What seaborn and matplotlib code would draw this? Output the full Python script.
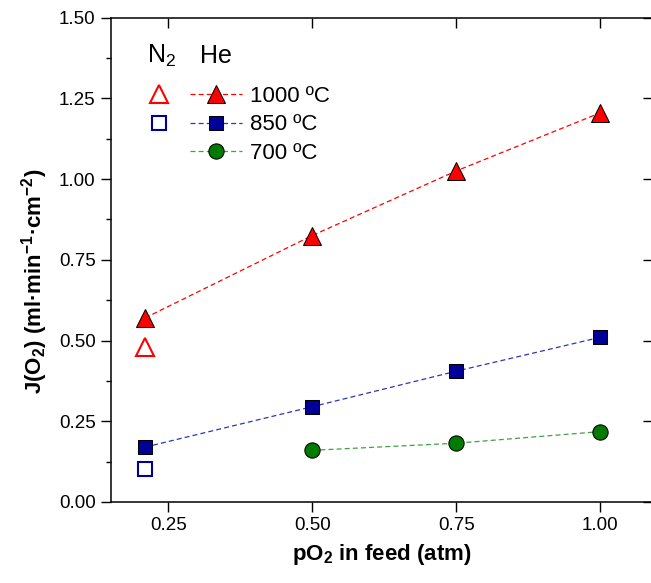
import matplotlib
matplotlib.use("Agg")
import matplotlib.pyplot as plt
import seaborn as sns
import pandas as pd
from matplotlib.lines import Line2D

# ---- data ----
he_1000_x = [0.21, 0.50, 0.75, 1.00]
he_1000_y = [0.570, 0.825, 1.025, 1.205]
he_850_x = [0.21, 0.50, 0.75, 1.00]
he_850_y = [0.170, 0.295, 0.405, 0.510]
he_700_x = [0.50, 0.75, 1.00]
he_700_y = [0.160, 0.182, 0.218]
n2_1000_x = [0.21]
n2_1000_y = [0.480]
n2_850_x = [0.21]
n2_850_y = [0.102]
series_labels = ["1000 ºC", "850 ºC", "700 ºC"]
x_ticks = [0.25, 0.50, 0.75, 1.00]
y_ticks = [0.00, 0.25, 0.50, 0.75, 1.00, 1.25, 1.50]
y_minor_ticks = [0.125, 0.375, 0.625, 0.875, 1.125, 1.375]

sns.set_style("ticks")
plt.rcParams['font.family'] = ['Liberation Sans', 'DejaVu Sans']
plt.rcParams['mathtext.default'] = 'regular'
for k in ['text.color', 'axes.labelcolor', 'xtick.color', 'ytick.color', 'axes.edgecolor']:
    plt.rcParams[k] = 'black'

W, H = 651, 583
fig = plt.figure(figsize=(W / 100, H / 100), dpi=100)
ax = fig.add_axes([110.5 / W, (H - 502) / H, (653 - 110.5) / W, (502 - 17.5) / H])

red = "#ff0000"
navy = "#000099"
green = "#007a00"
blue_line = "#3333bb"
green_line = "#44a044"

df1000 = pd.DataFrame({"x": he_1000_x, "y": he_1000_y})
df850 = pd.DataFrame({"x": he_850_x, "y": he_850_y})
df700 = pd.DataFrame({"x": he_700_x, "y": he_700_y})

line_kw = dict(lw=0.9, dashes=(4, 2.5), markeredgecolor="black", markeredgewidth=0.75)
sns.lineplot(data=df1000, x="x", y="y", ax=ax, color=red, marker="^", markersize=13,
             markerfacecolor=red, **line_kw)
sns.lineplot(data=df850, x="x", y="y", ax=ax, color=blue_line, marker="s", markersize=10,
             markerfacecolor=navy, **line_kw)
sns.lineplot(data=df700, x="x", y="y", ax=ax, color=green_line, marker="o", markersize=11,
             markerfacecolor=green, **line_kw)

ax.plot(n2_1000_x, n2_1000_y, linestyle="none", marker="^", markersize=12.5,
        markerfacecolor="white", markeredgecolor=red, markeredgewidth=1.5)
ax.plot(n2_850_x, n2_850_y, linestyle="none", marker="s", markersize=9.5,
        markerfacecolor="white", markeredgecolor=navy, markeredgewidth=1.5)

ax.set_xlim(0.1499, 1.0913)
ax.set_ylim(0, 1.5)
ax.set_xticks(x_ticks)
ax.set_xticklabels([f"{v:.2f}" for v in x_ticks])
# major and minor y positions together; minor ones get no label and a short tick
all_y = sorted(y_ticks + y_minor_ticks)
ax.set_yticks(all_y)
ax.set_yticklabels([f"{v:.2f}" if v in y_ticks else "" for v in all_y])

for s in ax.spines.values():
    s.set_linewidth(1.1)
    s.set_visible(True)
ax.tick_params(axis="both", which="major", direction="out", length=7.2, width=1.0,
               labelsize=13.5, pad=3.5, color="black", labelcolor="black")
ax.tick_params(axis="x", which="major", top=True)
ax.tick_params(axis="y", which="major", right=True)

ax.set_xlabel("pO$_2$ in feed (atm)", fontsize=16, fontweight="bold", labelpad=6)
ax.set_ylabel("J(O$_2$) (ml·min$^{-1}$·cm$^{-2}$)", fontsize=16, fontweight="bold")
ax.yaxis.set_label_coords((50 - 110.5) / 542.5, (502 - 281) / 484.5)

# legend (He, filled markers with lines)
he_handles = [
    Line2D([], [], color=red, lw=0.9, dashes=(4, 2.5), marker="^", markersize=13,
           markerfacecolor=red, markeredgecolor="black", markeredgewidth=0.75),
    Line2D([], [], color=blue_line, lw=0.9, dashes=(4, 2.5), marker="s", markersize=10,
           markerfacecolor=navy, markeredgecolor="black", markeredgewidth=0.75),
    Line2D([], [], color=green_line, lw=0.9, dashes=(4, 2.5), marker="o", markersize=11,
           markerfacecolor=green, markeredgecolor="black", markeredgewidth=0.75),
]
leg1 = fig.legend(he_handles, series_labels, loc="upper left",
                  bbox_to_anchor=(190 / W, (H - 86) / H), frameon=False,
                  fontsize=16, handlelength=2.35, handletextpad=0.35,
                  labelspacing=0.33, borderpad=0, borderaxespad=0)

n2_handles = [
    Line2D([], [], linestyle="none", marker="^", markersize=12.5,
           markerfacecolor="white", markeredgecolor=red, markeredgewidth=1.5),
    Line2D([], [], linestyle="none", marker="s", markersize=9.5,
           markerfacecolor="white", markeredgecolor=navy, markeredgewidth=1.5),
]
leg2 = fig.legend(n2_handles, [" ", " "], loc="upper left",
                  bbox_to_anchor=(148 / W, (H - 86) / H), frameon=False,
                  fontsize=16, handlelength=1.0, handletextpad=0.0,
                  labelspacing=0.33, borderpad=0, borderaxespad=0)

fig.text(147 / W, (H - 63) / H, "N$_2$", fontsize=18, ha="left", va="baseline")
fig.text(200 / W, (H - 63) / H, "He", fontsize=18, ha="left", va="baseline")

# per-tick styling: inward ticks on top/right, short ticks at minor positions
for t in ax.xaxis.get_major_ticks():
    t.tick2line.set_marker(matplotlib.lines.TICKDOWN)
for t, v in zip(ax.yaxis.get_major_ticks(len(all_y)), all_y):
    if v in y_minor_ticks:
        t.tick1line.set_markersize(3.6)
        t.tick2line.set_visible(False)
    else:
        t.tick2line.set_marker(matplotlib.lines.TICKLEFT)

fig.savefig("out.png", dpi=100)
